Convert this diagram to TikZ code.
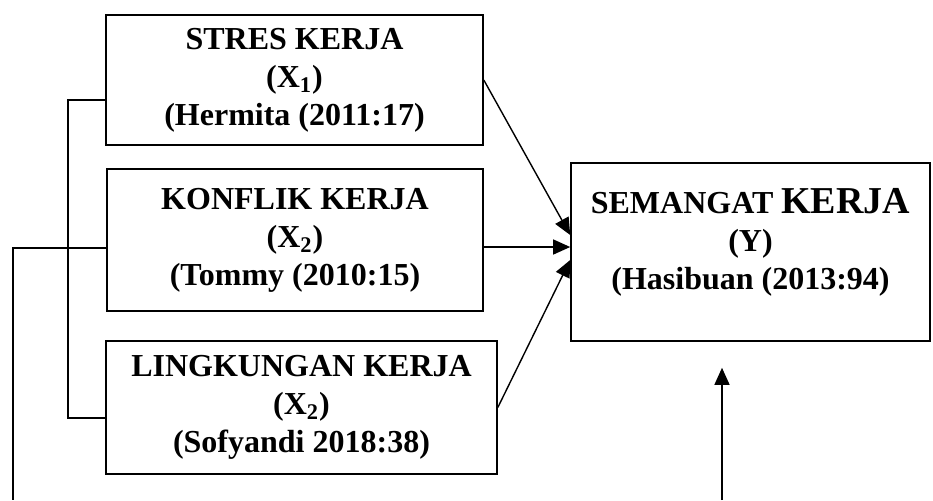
\documentclass[tikz,border=0pt]{standalone}
\usepackage{fontspec}
\setmainfont{Liberation Serif}
\usetikzlibrary{arrows.meta}

\begin{document}
\begin{tikzpicture}[x=0.5pt,y=-0.5pt,
    varbox/.style={draw,line width=0.8pt,align=center,inner sep=0pt,
      font=\bfseries\fontsize{16}{19}\selectfont},
    link/.style={line width=0.7pt},
    arr/.style={link,-{Triangle[length=8.5pt,width=7.5pt]}}]
        \useasboundingbox (0,0) rectangle (933,500);
        \node[varbox,minimum width=188.5pt,minimum height=65pt] (stres) at (294.5,80)
            {STRES KERJA\\(X\textsubscript{1})\\(Hermita (2011:17)};
        \node[varbox,minimum width=188pt,minimum height=71pt] (konflik) at (295,240)
            {KONFLIK KERJA\\(X\textsubscript{2})\\(Tommy (2010:15)};
        \node[varbox,minimum width=195.5pt,minimum height=66.5pt] (lingkungan) at (301.5,407.5)
            {LINGKUNGAN KERJA\\(X\textsubscript{2})\\(Sofyandi 2018:38)};
        \node[varbox,minimum width=179.5pt,minimum height=89pt] (semangat) at (750.5,252)
            {SEMANGAT {\fontsize{19}{19}\selectfont KERJA}\\(Y)\\(Hasibuan (2013:94)\\[-6pt]\mbox{}};
        % bracket on the left
        \coordinate (brtop) at (68,100);
        \coordinate (brbot) at (68,418);
        \draw[link] ([yshift=-10pt]stres.west) -- (brtop) -- (brbot) -- ([yshift=-5.25pt]lingkungan.west);
        % outer line
        \coordinate (outtop) at (13,248);
        \coordinate (outbot) at (13,500);
        \draw[link] ([yshift=-4pt]konflik.west) -- (outtop) -- (outbot);
        \coordinate (upbot) at (722,500);
        \draw[arr] (upbot) -- ([xshift=-14.25pt,yshift=-13pt]semangat.south);
        % arrows to Y
        \draw[arr] (stres.east) -- ([yshift=8.5pt]semangat.west);
        \draw[arr] ([yshift=-3.5pt]konflik.east) -- ([yshift=2.5pt]semangat.west);
        \draw[arr] (lingkungan.east) -- ([yshift=-4pt]semangat.west);
    \end{tikzpicture}
\end{document}
